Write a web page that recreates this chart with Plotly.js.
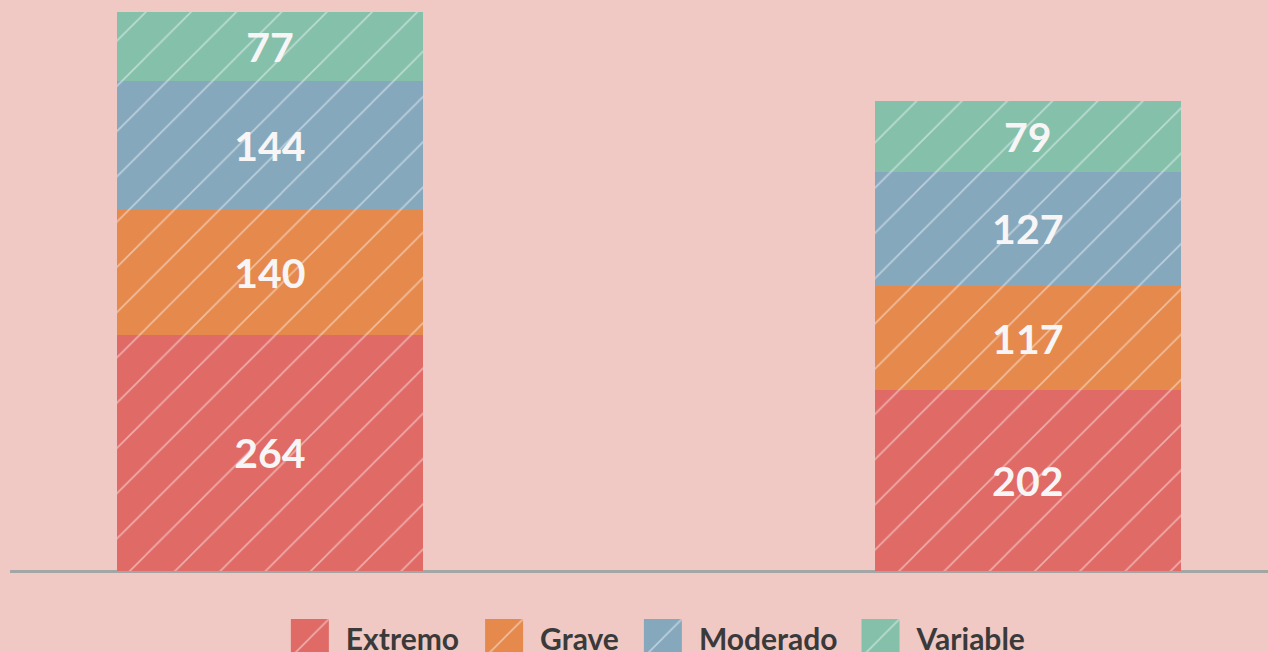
<!DOCTYPE html>
<html>
<head>
<meta charset="utf-8">
<script src="https://cdn.plot.ly/plotly-3.0.1.min.js"></script>
<style>
html,body{margin:0;padding:0;background:#f0c9c4;}
#chart{width:1268px;height:652px;}
</style>
</head>
<body>
<div id="chart"></div>
<script>
const categories = ["A", "B"];
const seriesNames = ["Extremo", "Grave", "Moderado", "Variable"];
const extremo = [264, 202];
const grave = [140, 117];
const moderado = [144, 127];
const variable = [77, 79];
const seriesValues = [extremo, grave, moderado, variable];
const colors = ["#e06a66", "#e5894d", "#86a8bd", "#85c0ab"];

const traces = seriesNames.map((name, i) => ({
  type: "bar",
  name: name,
  x: categories,
  y: seriesValues[i],
  width: 0.404,
  marker: {
    color: colors[i],
    line: {width: 0},
    pattern: {shape: "/", bgcolor: colors[i], fgcolor: "#ffffff", fgopacity: 0.45, size: 32, solidity: 0.05}
  },
  text: seriesValues[i].map(String),
  textposition: "inside",
  insidetextanchor: "middle",
  textangle: 0,
  textfont: {family: "Lato, sans-serif", size: 41, color: "#f7f5f5", weight: 700},
  hoverinfo: "skip"
}));

const layout = {
  barmode: "stack",
  width: 1268,
  height: 652,
  margin: {l: 10, r: 0, t: 12, b: 81, pad: 0, autoexpand: false},
  paper_bgcolor: "#f0c9c4",
  plot_bgcolor: "rgba(0,0,0,0)",
  showlegend: true,
  legend: {
    orientation: "h",
    x: 0.515, xanchor: "center",
    y: -0.0735, yanchor: "top",
    font: {family: "Lato, sans-serif", size: 30, color: "#3a3a3a", weight: 700},
    itemwidth: 62,
    traceorder: "normal",
    bgcolor: "rgba(0,0,0,0)"
  },
  xaxis: {
    type: "category",
    range: [-0.343, 1.317],
    showticklabels: false,
    showgrid: false,
    zeroline: false,
    showline: false,
    ticks: ""
  },
  yaxis: {
    range: [0, 625],
    showticklabels: false,
    showgrid: false,
    zeroline: true,
    zerolinecolor: "#a3a6a4",
    zerolinewidth: 3,
    showline: false,
    ticks: ""
  },
  font: {family: "Lato, sans-serif"}
};

const legendShift = [-10, -6, -3, -1];

Plotly.newPlot("chart", traces, layout, {displayModeBar: false, staticPlot: true}).then(() => {
  const barTraces = document.querySelectorAll(".barlayer .trace");
  document.querySelectorAll(".legend .traces").forEach((g, i) => {
    const p = g.querySelector(".legendpoints path");
    if (p) {
      p.setAttribute("d", "M19,-19H-19V19H19Z");
      const bp = barTraces[i] && barTraces[i].querySelector(".point path");
      if (bp && bp.style.fill) p.style.fill = bp.style.fill;
    }
    const t = g.getAttribute("transform") || "translate(0,0)";
    const m = t.match(/translate\(\s*([-\d.e]+)[ ,]+([-\d.e]+)\s*\)/);
    if (m) {
      const nx = parseFloat(m[1]) + (legendShift[i] || 0);
      g.setAttribute("transform", "translate(" + nx + "," + m[2] + ")");
    }
  });
});
</script>
</body>
</html>
